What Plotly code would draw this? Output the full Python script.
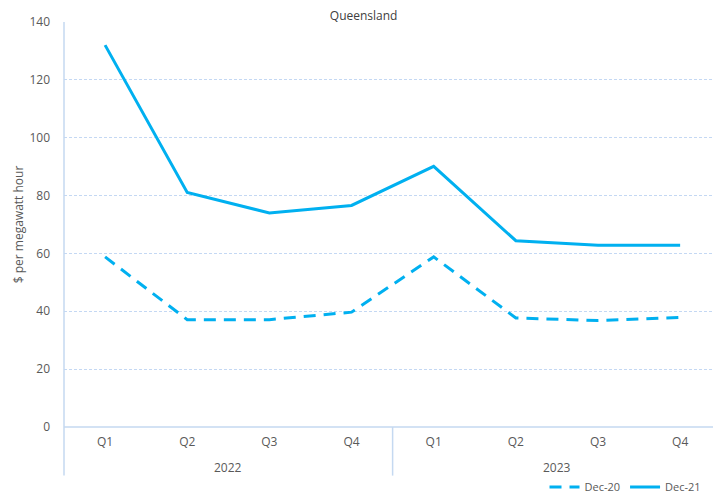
import plotly.graph_objects as go

quarters = ["Q1", "Q2", "Q3", "Q4", "Q1", "Q2", "Q3", "Q4"]
years = ["2022", "2023"]
dec20 = [58.8, 37.1, 37.1, 39.7, 58.8, 37.7, 36.8, 37.9]
dec21 = [132.0, 81.1, 74.0, 76.6, 90.1, 64.4, 62.8, 62.8]
y_ticks = [0, 20, 40, 60, 80, 100, 120, 140]

xs = list(range(len(quarters)))
color = "#00B0F0"
axis_col = "#C5D9F1"
text_col = "#595959"
font_fam = "Open Sans, Noto Sans, sans-serif"
fs = 12

fig = go.Figure()
fig.add_trace(go.Scatter(x=xs, y=dec20, mode="lines", name="Dec-20",
                         line=dict(color=color, width=3, dash="12px,8px")))
fig.add_trace(go.Scatter(x=xs, y=dec21, mode="lines", name="Dec-21",
                         line=dict(color=color, width=3)))

fig.update_layout(
    width=713, height=496,
    margin=dict(l=64, r=0, t=22, b=69, autoexpand=False),
    paper_bgcolor="white", plot_bgcolor="white",
    font=dict(family=font_fam, size=fs, color=text_col),
    title=dict(text="Queensland", x=0.51, xanchor="center", yref="container",
               y=0.968, yanchor="middle", automargin=False,
               font=dict(size=fs, color="#404040")),
    legend=dict(orientation="h", x=0.99, xanchor="right", yref="paper", y=-0.148,
                yanchor="middle", font=dict(size=11, color=text_col), itemwidth=30,
                bgcolor="rgba(0,0,0,0)", tracegroupgap=0),
    showlegend=True,
)
fig.update_xaxes(range=[-0.5, 7.4], tickvals=xs, ticktext=quarters, showgrid=False,
                 zeroline=False, showline=False, ticks="", ticklabelstandoff=6,
                 automargin=False, tickfont=dict(size=fs, color=text_col))
fig.update_yaxes(range=[0, 140], tickvals=y_ticks, showgrid=True, gridcolor="#C4D8F3",
                 griddash="3px,2px", gridwidth=1, zeroline=False, showline=False, ticks="",
                 ticklabelstandoff=13, automargin=False,
                 title=dict(text="$ per megawatt hour", standoff=3, font=dict(size=fs, color=text_col)),
                 tickfont=dict(size=fs, color=text_col))

# axis lines & category dividers
shapes = [
    dict(type="line", xref="paper", yref="paper", x0=0, x1=1, y0=0, y1=0,
         line=dict(color=axis_col, width=1.5)),
    dict(type="line", xref="paper", yref="paper", x0=0, x1=0, y0=1, y1=-0.12,
         line=dict(color=axis_col, width=1.5)),
    dict(type="line", xref="x", yref="paper", x0=3.5, x1=3.5, y0=0, y1=-0.12,
         line=dict(color=axis_col, width=1.5)),
]
fig.update_layout(shapes=shapes)
for i, yr in enumerate(years):
    fig.add_annotation(x=1.5 + 4 * i, y=0, xref="x", yref="y", text=yr, showarrow=False,
                       yshift=-40, font=dict(size=fs, color=text_col))

fig.write_html("out.html", config={"displayModeBar": False},
               post_script="document.body.style.margin='0';document.body.style.overflow='hidden';")
